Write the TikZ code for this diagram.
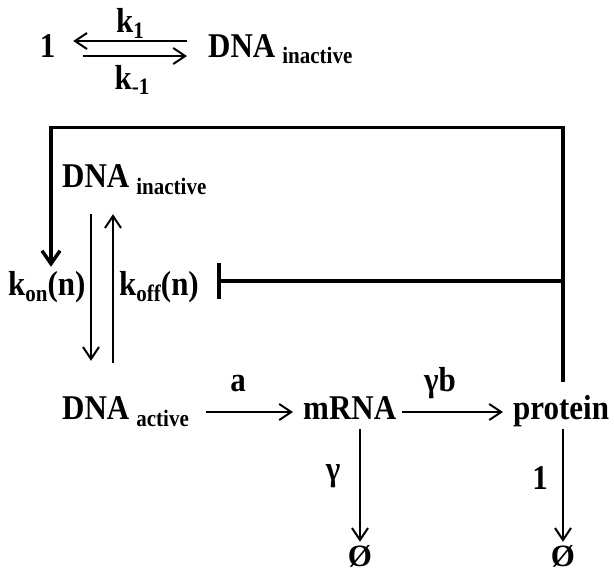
\documentclass[tikz,border=0pt]{standalone}
\usepackage{fontspec}
\setmainfont{Liberation Serif}
\usetikzlibrary{arrows.meta}
\newcommand\bigtxt{\fontsize{31}{31}\selectfont\bfseries}
\newcommand\tall[1]{\scalebox{1}[1.12]{#1}}
\newcommand\lowsub[2][7pt]{\raisebox{-#1}{\fontsize{21}{21}\selectfont\bfseries #2}}
\begin{document}
\begin{tikzpicture}[x=1pt,y=-1pt,
  lbl/.style={inner sep=0pt, font=\bigtxt, text height=21pt, text depth=7pt},
  sink/.style={lbl, text depth=3pt, anchor=base},
  rate/.style={line width=2pt, -{Straight Barb[length=12pt,width=16pt,line width=2pt]}},
  fb/.style={line width=3.5pt},
  fbarrow/.style={fb, -{Straight Barb[length=13pt,width=18pt,line width=3.5pt]}},
  inhibit/.style={fb, -{Bar[width=36pt,line width=3.5pt]}}]
\useasboundingbox (0,0) rectangle (614,573);

% reversible switch of the gene
\node[lbl, anchor=base] (one) at (47.5,57) {\tall{1}};
\node[lbl, anchor=base west] (topinact) at (208,57) {\tall{DNA\hspace{7pt}\lowsub[6pt]{inactive}}};
\node[lbl, anchor=base] (k1) at (130,32) {\tall{k\lowsub[6pt]{1}}};
\node[lbl, anchor=base] (km1) at (132,89) {\tall{k\lowsub[5pt]{-1}}};
\draw[rate, shorten <=21pt, shorten >=17.75pt] ([yshift=9pt]topinact.west) -- ([yshift=9pt]one.east);
\draw[rate, shorten <=27.75pt, shorten >=21pt] ([yshift=-6pt]one.east) -- ([yshift=-6pt]topinact.west);

% species of the network
\node[lbl, anchor=base west] (dnaI) at (62,187) {\tall{DNA\hspace{7pt}\lowsub{inactive}}};
\node[lbl, anchor=base west] (dnaA) at (62,419) {\tall{DNA\hspace{7pt}\lowsub{active}}};
\node[lbl, anchor=base west] (mrna) at (303,419) {\tall{mRNA}};
\node[lbl, anchor=base west] (prot) at (513,419) {\tall{protein}};
\node[sink] (nullM) at (360,566) {Ø};
\node[sink] (nullP) at (563,566) {Ø};

% rate labels
\node[lbl, anchor=base west] (kon) at (8,295) {\tall{k\lowsub[6pt]{on}(n)}};
\node[lbl, anchor=base west] (koff) at (119,295) {\tall{k\lowsub[6pt]{off}(n)}};
\node[lbl, anchor=base] (ra) at (238,391) {\tall{a}};
\node[lbl, anchor=base] (rgb) at (440,391) {\tall{γb}};
\node[lbl] (rg) at (333,473) {\tall{γ}};
\node[lbl] (r1) at (540,482) {\tall{1}};

% gene switching
\draw[rate, shorten <=20pt, shorten >=37pt] ([xshift=29pt]dnaI.south west) coordinate (dn) -- (dn |- dnaA.north);
\draw[rate, shorten <=35pt, shorten >=20pt] ([xshift=51pt]dnaA.north west) coordinate (up) -- (up |- dnaI.south);

% transcription, translation, decay
\draw[rate, shorten <=17pt, shorten >=10pt] (dnaA) -- (mrna);
\draw[rate, shorten <=6pt, shorten >=10pt] (mrna) -- (prot);
\draw[rate, shorten <=3pt, shorten >=3pt] (nullM |- mrna.south) -- (nullM);
\draw[rate, shorten <=3pt, shorten >=3pt] (nullP |- prot.south) -- (nullP);

% protein feedback
\coordinate (fbR) at (563,127.5);
\coordinate (fbL) at (51,127.5);
\coordinate (inhB) at (217,281);
\draw[fbarrow, shorten >=7pt] ([yshift=16pt]prot.north -| fbR) -- (fbR) -- (fbL) -- (fbL |- kon.north);
\draw[inhibit] (inhB -| fbR) -- (inhB);
\end{tikzpicture}
\end{document}
